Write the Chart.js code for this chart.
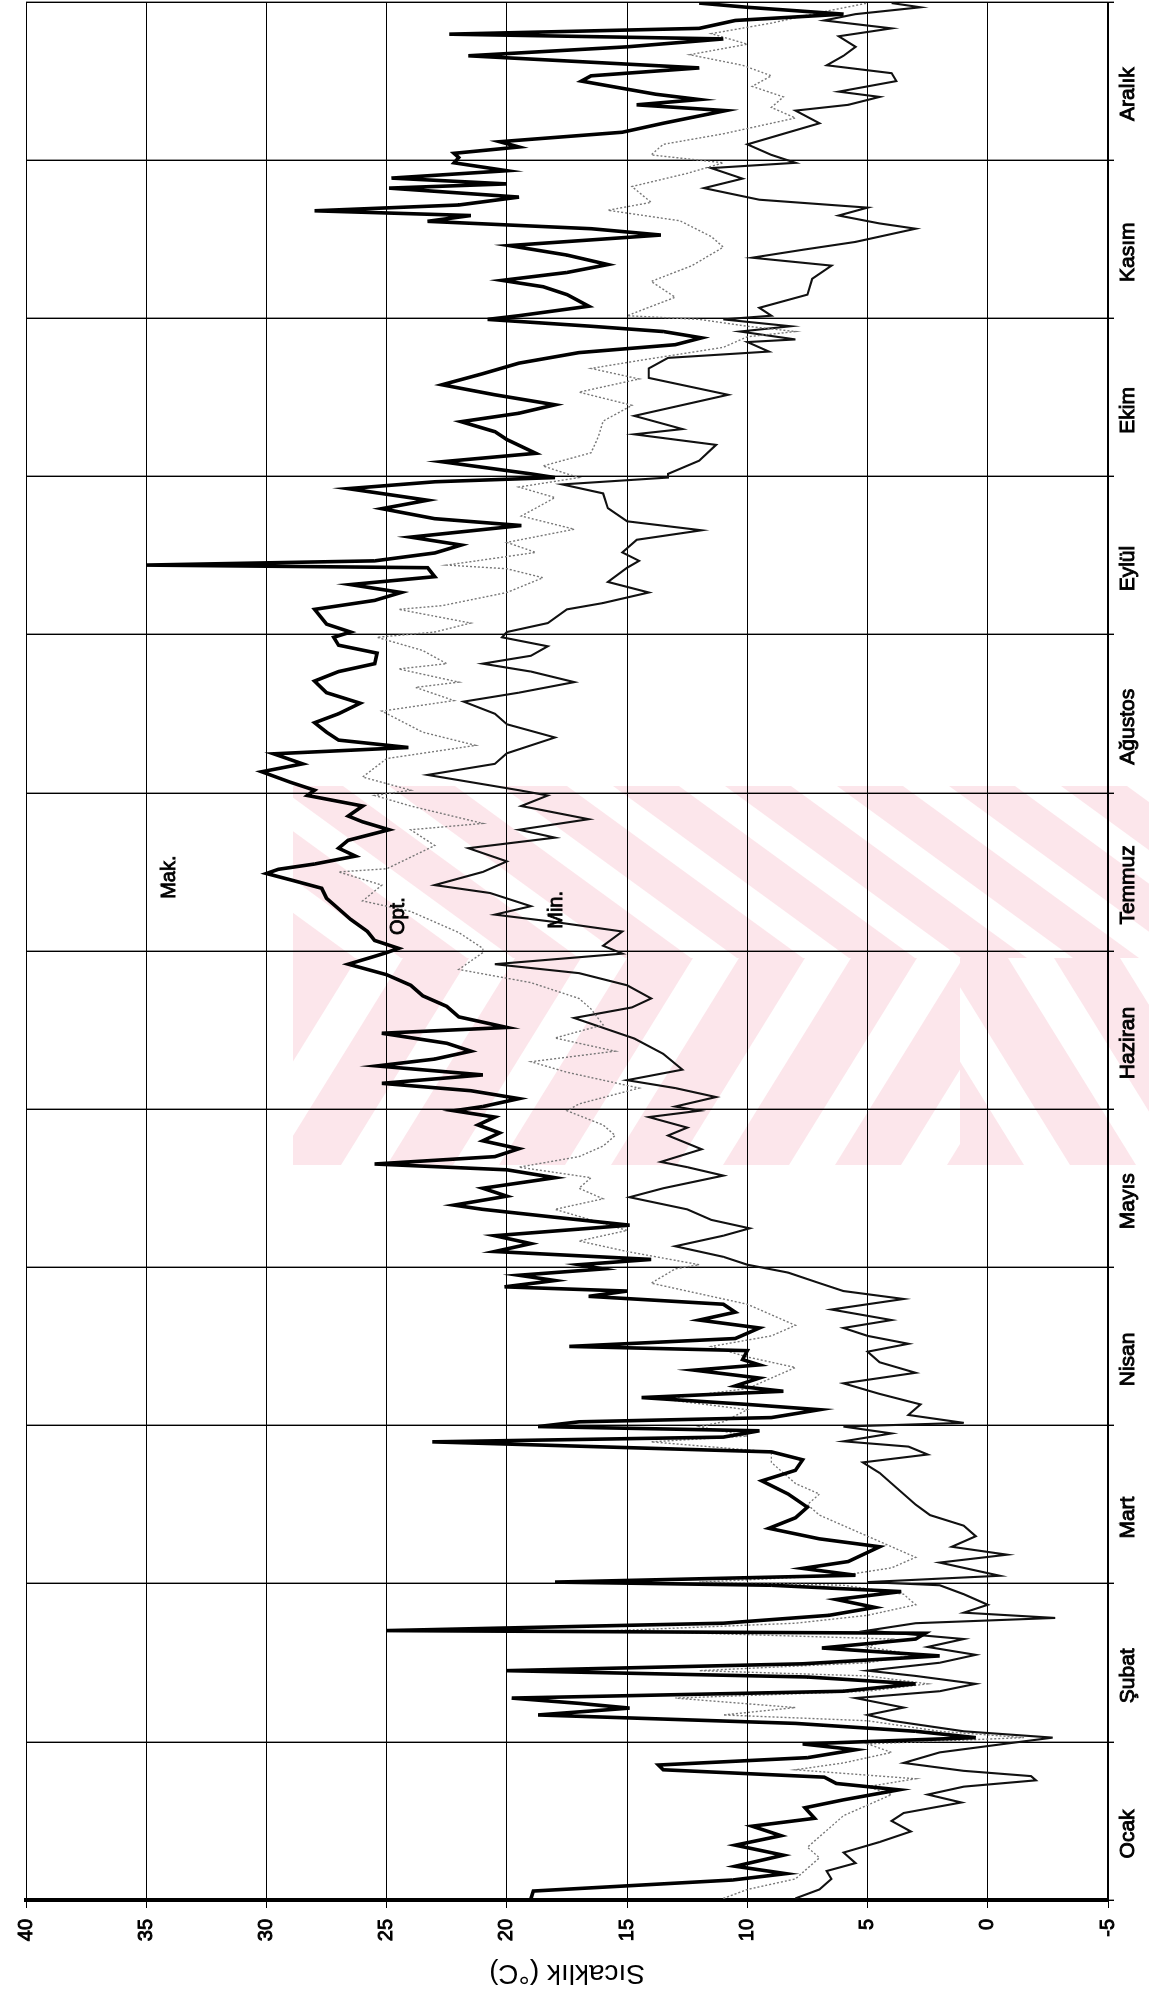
<!DOCTYPE html>
<html><head><meta charset="utf-8">
<script src="https://cdn.jsdelivr.net/npm/chart.js@4"></script>
<style>
html,body{margin:0;padding:0;background:#fff;overflow:hidden;width:1149px;height:1996px;}
#wrap{position:absolute;left:0;top:0;width:1996px;height:1149px;transform-origin:0 0;transform:translateY(1996px) rotate(-90deg);}
canvas{display:block;}
</style></head><body>
<div id="wrap"><canvas id="c" width="1996" height="1149"></canvas></div>
<script>
const months = ['Ocak','Şubat','Mart','Nisan','Mayıs','Haziran','Temmuz','Ağustos','Eylül','Ekim','Kasım','Aralık'];
const tempTicks = [40,35,30,25,20,15,10,5,0,-5];
const daysPerMonth = 30;

// [day within month, °C]
const maxByMonth = [
 [[0.3,19],[1.7,18.9],[3.8,10.6],[5,8.4],[6.4,10.5],[8.5,8.5],[10.4,10.5],[12.2,8.6],[14,9.8],[15.5,7.2],[17.5,7.6],[19,6],[20.9,3.7],[22.1,6.3],[23.3,6.8],[24.7,13.5],[25.6,13.7],[27,7.5],[28.5,5.5],[29.6,7.7]],
 [[0.8,0.5],[2,3],[3.5,8],[5.1,18.7],[6.4,14.9],[7.3,17],[8.3,19.8],[9.6,6],[11,3],[12.3,7.5],[13.5,20],[14.8,7.7],[16.3,2],[17.8,6.9],[19.5,3],[20.6,2.6],[21.1,25],[22.5,11],[24,6.6],[25.5,4.7],[27,6.3],[28.5,3.6],[29.7,9]],
 [[0.3,18],[1.6,5.5],[2.9,7.7],[4.2,5.8],[5.5,5.2],[7,4.5],[8.5,7],[10.5,9.1],[12.5,8],[14.5,7.5],[17,8.3],[19.5,9.4],[21.5,8],[23.5,7.7],[25,9],[26.9,23.1],[27.8,11],[29,9.5],[29.8,18.7]],
 [[0.7,17],[1.5,9],[3,7],[4,10],[5.3,14.4],[6.5,8.5],[7.5,10.5],[9,9.5],[10.5,12.2],[11.5,9.5],[12.5,10.2],[14.2,10],[15,17.4],[16.5,10.5],[18.5,9.5],[20,12],[21.5,10.5],[23,11],[24.5,16.6],[25.5,15],[26.3,20.1],[27.5,18],[28.5,19.5],[29.7,16]],
 [[0.5,17],[1.5,14],[3,20.5],[4.5,19],[6,20.5],[8,14.9],[9.5,18],[11,21],[11.8,22.2],[13.5,20],[15,21],[17,18],[18.5,20],[19.6,25.5],[21,20.5],[22.5,19.5],[24,21],[25.5,20.3],[27,21.2],[28.5,20.5],[29.7,22.2]],
 [[0.5,21],[2,19.5],[3.5,21.5],[4.9,25.2],[6.5,21],[8.2,25.4],[9.5,23],[11,21.5],[12.5,22.5],[14.4,25.2],[15.5,20],[17.5,22],[19.5,22.5],[21.5,23.5],[23.5,24],[25.5,25],[27.5,26.6],[29,25.5],[29.7,25]],
 [[0.5,24.5],[2,25.5],[3.7,25.8],[6,26.5],[8,27],[10,27.5],[11.9,27.7],[13.5,29],[14.7,30],[15.5,29.5],[16.5,28],[18,26.3],[19.5,27],[21,26.6],[23,24.9],[24.5,26],[25.6,26.6],[27.5,26],[29.5,28.3]],
 [[0.5,28],[2,29],[4,30.2],[5.5,28.5],[7.4,29.7],[8.6,24.1],[10,27],[11.5,27.5],[13.3,28],[15,27],[17,26.1],[19,27.5],[21.2,28],[23,27],[24.5,25.5],[26.5,25.4],[28,27],[29.5,27.2]],
 [[0.5,26.5],[2,27.5],[4.8,28],[6.5,25.5],[8,24.4],[9.5,26.5],[11,23],[12.7,23.3],[13.2,35],[14,25.5],[15.5,23],[17,21.9],[18.5,24],[20.7,19.4],[22,23],[23.9,25.2],[25.5,23.3],[27.7,26.6],[29,23],[29.8,18]],
 [[0.5,19],[2.8,22.7],[4.4,18.8],[7,20],[8.5,20.5],[10.4,21.9],[12,19.5],[13.6,18],[15.5,20.5],[17.4,22.7],[19.5,21],[21.5,19.5],[23.5,17],[25,13],[26.3,11.9],[27.5,13.5],[28.5,16.5],[29.8,20.8]],
 [[0.5,19.5],[2.3,16.6],[4.5,17.5],[6,18.5],[7.2,20.2],[8.7,17.5],[10.2,15.8],[12,17.5],[13.8,19.9],[15.8,13.6],[17,16.5],[18.4,23.3],[19.5,21.5],[20.4,28],[21.5,22],[23,19.5],[24.7,24.9],[25.5,20],[26.6,24.8],[28,20],[29.5,22.2]],
 [[0.5,22],[1.3,22.2],[2.5,19.5],[3.5,20.3],[5.3,15.2],[7,13.5],[9.4,10.9],[10.5,14.6],[11.5,12],[12.5,13.8],[15,16.9],[16,16.5],[17.5,12],[19.8,21.6],[21.5,15],[23,11],[23.9,22.4],[25,12],[26.5,10.5],[27.7,6],[29,10],[29.8,12]]
];
const optByMonth = [
 [[0.3,11],[2,10],[4,8],[6,7.5],[8,7],[10,7.5],[12,7],[14,6.5],[16,6],[18,5],[20,4],[21.5,5],[23,3],[24.7,8],[26,6],[28,4],[29.6,5]],
 [[0.8,-1.5],[2,2],[4,5],[5.1,11],[6.5,8],[8.3,13],[9.6,5],[11,2.5],[12.5,5],[13.5,12],[15,5],[16.5,3],[18,5],[19.5,4],[21.1,15.5],[22.5,8],[24,5],[26,3],[28,3.5],[29.7,6]],
 [[0.3,12],[1.6,6],[3,4],[5,3],[7,4],[9,5],[11,6],[13,7],[15,7.5],[17,7],[19,8],[21,8.5],[23,9],[25,9],[26.9,14],[28,10],[29.8,12]],
 [[0.7,11],[3,10],[5,13.5],[7,10],[9,9],[11,8],[13,10],[15,11.5],[17,9],[19,8],[21,9],[23,10],[25,12],[27,14],[29.7,13]],
 [[0.5,12],[3,15],[5,17],[7,15],[9,16.5],[11,18],[13,16],[15,17],[17,16.5],[19,19.5],[21,17],[23,16],[25,15.5],[27,16],[29.7,17.5]],
 [[1,17],[4,14.5],[7,17.5],[9,19],[11,15.5],[13.5,18],[16,16],[19,16.5],[21,17],[24,19],[26.5,22],[29.7,21]],
 [[0.5,21],[3.5,22],[7.5,24],[9.5,26],[12.5,25.2],[15,27],[15.6,25],[20,23],[23,24],[24.2,21],[27.5,24],[29.5,25.5]],
 [[0.5,24],[3,26],[6.5,25],[9,21.3],[11.5,23.5],[15.5,25.2],[17.5,22.2],[20,23.8],[21,22],[23.5,24.5],[24.5,22.5],[27,23.5],[29.5,25.4]],
 [[0.5,23],[2.2,21.5],[4.8,24.5],[5.5,22.7],[8,20],[10.8,18.5],[12.5,20],[13.2,22.5],[15.6,18.8],[17.5,20],[20,17.2],[22.5,19.4],[26,18],[28,19.5],[29.8,17]],
 [[0.5,17.5],[2,18.5],[4.5,16.5],[7.5,16.2],[10.5,16],[13.5,14.8],[16,17],[18.5,14.5],[20.5,16.5],[22,14.5],[24.5,11],[26.5,10],[27.5,8],[28.5,10],[29.8,12]],
 [[0.5,15],[4,13],[7,14],[10,12.3],[13.5,11],[15.5,11.5],[18.5,12.8],[20.5,15.8],[22,14],[25,14.8],[27.5,12.5],[29.5,11]],
 [[1,14],[3,13.5],[5,11],[8,8],[10,9],[12,8.5],[14,9.8],[16,9],[18,10.2],[20,12.4],[22,10],[24,11.5],[26,9],[28,7],[29.8,5]]
];
const minByMonth = [
 [[0.3,8],[2,7],[4,6.5],[5.5,6.7],[7,5.5],[9,6],[11,4.5],[13,3.2],[15,4],[16.5,3.5],[18.5,1.1],[20,2.5],[21.5,1],[22.7,-2],[23.5,-1.8],[24.5,1],[26,3.5],[28,2],[29.5,-0.5]],
 [[0.8,-2.7],[2,1],[4,4],[5.1,5],[6.5,3.5],[8.3,5.5],[9.6,2],[11,0.5],[12.5,3],[13.5,5],[15,2],[16.5,0.5],[18,2.5],[19.5,1],[21.1,5],[22.5,3],[23.5,-2.8],[24.5,1],[26,0],[28,1],[29.7,2]],
 [[0.3,5],[1.5,-0.5],[2.5,0.5],[4,2],[5.5,-0.8],[7,1.5],[9,0.5],[11,1],[13,2.4],[15,3],[17,3.5],[19,4],[21,4.5],[23,5.2],[24.5,2.5],[26,3.3],[27,6],[28.5,4],[29.8,6]],
 [[0.5,1],[2,3.3],[4,2.8],[6,4.5],[8,6],[10,3],[12,4.5],[14,5],[15.5,3.3],[17,5],[18.5,6],[20,4],[22,6.5],[24,3.5],[25.5,6],[27,7],[29,8.3]],
 [[0.5,10],[2,11],[4,13],[6,11],[7.4,9.9],[9,11.5],[11,12.5],[13.3,14.9],[15,13.5],[17.4,11],[19,12.5],[20,13.6],[22.4,11.9],[25,13.3],[26.5,12.5],[28.5,14.1],[29.7,12]],
 [[0.5,13],[2.3,11.3],[4,13],[5.5,15],[7.5,12.7],[10.5,13.5],[13.4,14.7],[17.3,17.2],[19.3,14.8],[21,14],[23.5,15],[25.8,17],[27.5,20.5],[29.5,15.2]],
 [[1,16],[3.7,15.2],[5.5,18],[6.9,20.5],[8.5,19],[11,20.7],[12.5,23],[15,21],[17,20],[19.5,21.6],[21.5,18],[23,19.5],[25,16.6],[27.5,19.4],[29.5,18.3]],
 [[0.5,19.5],[3.4,23.3],[5.5,20.5],[7.5,20],[10.5,18],[13,20],[15,20.5],[17.3,21.8],[19,19.5],[21,17.2],[23,19],[24.5,21],[26,19],[27.8,18.3],[29.5,20.2]],
 [[0.5,20],[2.2,18.3],[4.8,17.5],[6,16],[8,14.1],[10,15.8],[12.7,15],[14,14.5],[15.6,15.2],[18,14.6],[19.8,11.9],[21.5,15],[24,15.8],[26.8,16],[28.5,17.7],[29.8,13.3]],
 [[0.5,13.3],[3,12],[6,11.3],[8,14.7],[9,12.7],[11.5,14.7],[15.5,10.8],[18.7,14.1],[20.5,14.1],[22.5,13.3],[23.7,9.1],[25.5,10],[26,8],[27.5,10.3],[28.5,8.2],[29.8,11]],
 [[0.5,9],[2,9.5],[4.5,7.5],[7.5,7.3],[10,6.5],[11.5,9.8],[13,7.7],[14.5,5.5],[17,3],[18,4.5],[19.5,6.2],[21,5],[22.5,9.5],[24.7,11.8],[26.5,10.2],[28.5,11.5],[29.5,8]],
 [[1,9],[3,10],[5,8.5],[7,7],[9.4,8],[10.5,5.8],[12,4.5],[13,6.2],[15,3.8],[16.5,4],[18,6.7],[19.8,6],[21.5,5.5],[23.5,6.2],[25,4],[26.5,6.8],[27.7,5.5],[29,2.8],[29.8,4]]
];
const seriesNames = ['Mak.','Opt.','Min.'];
const seriesLabelAt = [[194,34.05],[186.6,24.5],[187.8,17.95]]; // [day of year, °C]

function toPoints(byMonth){
  const out=[];
  byMonth.forEach((pts,m)=>pts.forEach(([d,v])=>out.push({x:m*daysPerMonth+d,y:v})));
  return out;
}
const FONT='"Liberation Sans", Arial, Helvetica, sans-serif';

// faint pink scan watermark (page coordinates, drawn under everything)
const watermarkPlugin = {
  id:'watermark',
  beforeDraw(chart){
    const ctx = chart.ctx;
    ctx.save();
    ctx.setTransform(0,1,-1,0,chart.width,0); // page (x,y) -> canvas
    ctx.fillStyle='rgba(246,190,202,0.38)';
    const stripe=(clip, pts)=>{ctx.save();ctx.beginPath();ctx.rect(...clip);ctx.clip();
      ctx.beginPath();ctx.moveTo(pts[0][0],pts[0][1]);for(let i=1;i<pts.length;i++)ctx.lineTo(pts[i][0],pts[i][1]);ctx.closePath();ctx.fill();ctx.restore();};
    const W=66, P=112;
    for(let x0=293-240; x0<1150; x0+=P) stripe([293,786,857,172],[[x0,786],[x0+W,786],[x0+W+236,958],[x0+236,958]]);
    for(let x0=293-130; x0<960; x0+=P) stripe([293,958,667,207],[[x0,1165],[x0+W,1165],[x0+W+128,958],[x0+128,958]]);
    for(let x0=960-130; x0<1150; x0+=P) stripe([960,958,190,207],[[x0,958],[x0+W,958],[x0+W+128,1165],[x0+128,1165]]);
    ctx.restore();
  }
};

const labelPlugin = {
  id:'seriesLabels',
  afterDatasetsDraw(chart){
    const {ctx, scales:{x,y}} = chart;
    ctx.save();
    ctx.fillStyle='#000';
    ctx.strokeStyle='#000';
    ctx.lineWidth=0.8;
    ctx.font='20px '+FONT;
    ctx.textAlign='center';
    ctx.textBaseline='middle';
    seriesNames.forEach((n,i)=>{
      const px=x.getPixelForValue(seriesLabelAt[i][0]), py=y.getPixelForValue(seriesLabelAt[i][1]);
      ctx.fillText(n, px, py); ctx.strokeText(n, px, py);
    });
    ctx.restore();
  }
};

new Chart(document.getElementById('c'), {
  type:'line',
  data:{datasets:[
    {label:seriesNames[0], data:toPoints(maxByMonth), borderColor:'#000', borderWidth:3.6, pointRadius:0, tension:0, xAxisID:'x', yAxisID:'y'},
    {label:seriesNames[1], data:toPoints(optByMonth), borderColor:'#777', borderWidth:1.4, borderDash:[2,2], pointRadius:0, tension:0, xAxisID:'x', yAxisID:'y'},
    {label:seriesNames[2], data:toPoints(minByMonth), borderColor:'#111', borderWidth:2.1, pointRadius:0, tension:0, xAxisID:'x', yAxisID:'y'}
  ]},
  options:{
    responsive:false, animation:false, devicePixelRatio:1,
    layout:{padding:{left:0,right:2,top:26,bottom:0}},
    plugins:{legend:{display:false}, tooltip:{enabled:false}},
    scales:{
      x:{type:'linear', min:0, max:12*daysPerMonth, position:'bottom',
         ticks:{display:false, stepSize:daysPerMonth},
         grid:{color:'#000', lineWidth:1.4, drawTicks:true, tickLength:6},
         border:{display:true, color:'#000', width:1.5},
         afterFit(s){ s.height=0; }},
      xm:{type:'category', labels:months, position:'bottom', offset:true,
         grid:{display:false, drawTicks:false}, border:{display:false},
         ticks:{color:'#000', font:{family:FONT, size:21}, textStrokeColor:'#000', textStrokeWidth:0.9, padding:8, labelOffset:-13, maxRotation:0, autoSkip:false},
         afterFit(s){ s.height=41; }},
      y:{type:'linear', min:-5, max:40, position:'left',
         afterBuildTicks(s){ s.ticks = tempTicks.map(v=>({value:v})); },
         ticks:{color:'#000', font:{family:FONT, size:20}, textStrokeColor:'#000', textStrokeWidth:0.9, padding:11},
         grid:{color:'#000', lineWidth:1, tickLength:8},
         border:{color:'#000', width:4},
         title:{display:true, text:'Sıcaklık (°C)', color:'#000', font:{family:FONT, size:28}, padding:{top:6,bottom:0}},
         afterFit(s){ s.width=96; }}
    }
  },
  plugins:[watermarkPlugin, labelPlugin]
});
</script>
</body></html>
